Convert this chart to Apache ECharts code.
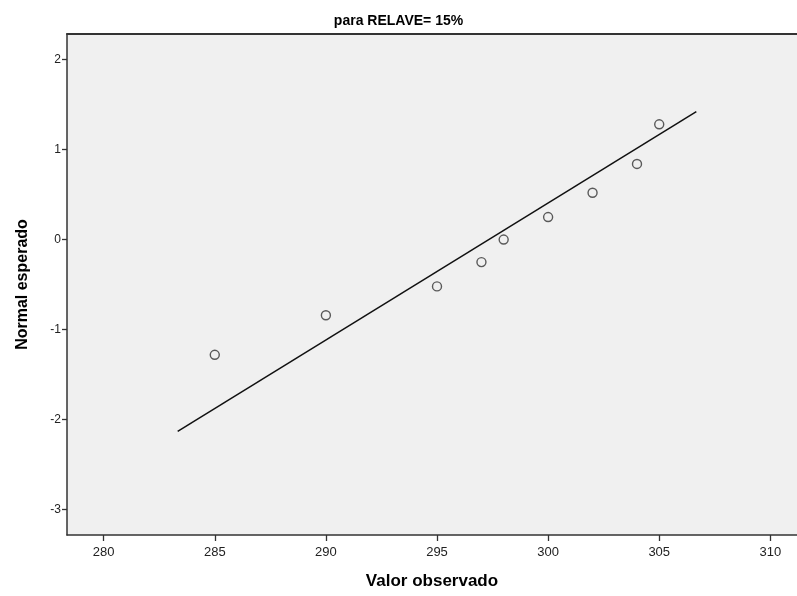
<!DOCTYPE html>
<html><head><meta charset="utf-8">
<script src="https://cdn.jsdelivr.net/npm/echarts@6/dist/echarts.min.js"></script>
<style>html,body{margin:0;padding:0;background:#fff}#c{width:797px;height:596px}</style>
</head><body><div id="c"></div>
<script>
var observed = [285, 290, 295, 297, 298, 300, 302, 304, 305];
var expectedNormal = [-1.28, -0.84, -0.52, -0.25, 0, 0.25, 0.52, 0.84, 1.28];
var lineX = [283.33, 306.67];
var lineY = [-2.13, 1.42];
var xTicks = [280, 285, 290, 295, 300, 305, 310];
var yTicks = [-3, -2, -1, 0, 1, 2];

var pts = observed.map(function(v, i){ return [v, expectedNormal[i]]; });
var linePts = lineX.map(function(v, i){ return [v, lineY[i]]; });

var chart = echarts.init(document.getElementById('c'));
chart.setOption({
  backgroundColor: '#fff',
  animation: false,
  title: {
    text: 'para RELAVE= 15%', left: 'center', top: 9,
    textStyle: {fontFamily: 'Liberation Sans Narrow, Arial Narrow, Liberation Sans', fontWeight: 'bold', fontSize: 14, color: '#000'}
  },
  grid: {left: 67, right: 0, top: 34, bottom: 61, show: true, backgroundColor: '#f0f0f0', borderWidth: 0},
  xAxis: [{
    type: 'value', min: 278.35, max: 311.2,
    name: 'Valor observado', nameLocation: 'middle', nameGap: 38,
    nameTextStyle: {fontFamily: 'Liberation Sans Narrow, Liberation Sans', fontWeight: 'bold', fontSize: 17, color: '#000'},
    axisLine: {show: true, onZero: false, lineStyle: {color: '#333', width: 1.5}},
    axisTick: {show: true, length: 6, lineStyle: {color: '#333', width: 1.3}, customValues: xTicks},
    axisLabel: {customValues: xTicks, color: '#222', fontFamily: 'Liberation Sans Narrow, Liberation Sans', fontSize: 13, margin: 11},
    splitLine: {show: false}
  }, {
    type: 'value', position: 'top', min: 278.35, max: 311.2,
    axisLine: {show: true, onZero: false, lineStyle: {color: '#333', width: 2}},
    axisTick: {show: false}, axisLabel: {show: false}, splitLine: {show: false}
  }],
  yAxis: {
    type: 'value', min: -3.281, max: 2.283,
    name: 'Normal esperado', nameLocation: 'middle', nameGap: 36,
    nameTextStyle: {fontFamily: 'Liberation Sans', fontWeight: 'bold', fontSize: 16, color: '#000'},
    axisLine: {show: true, onZero: false, lineStyle: {color: '#333', width: 1.5}},
    axisTick: {show: true, length: 5, lineStyle: {color: '#333', width: 1.3}, customValues: yTicks},
    axisLabel: {customValues: yTicks, color: '#222', fontFamily: 'Liberation Sans', fontSize: 12, margin: 6},
    splitLine: {show: false}
  },
  series: [
    {type: 'line', data: linePts, symbol: 'none', lineStyle: {color: '#111', width: 1.5}, z: 2},
    {type: 'scatter', data: pts, symbol: 'circle', symbolSize: 9,
     itemStyle: {color: 'rgba(0,0,0,0)', borderColor: '#333', borderWidth: 1.4}, z: 3}
  ]
});
</script></body></html>
